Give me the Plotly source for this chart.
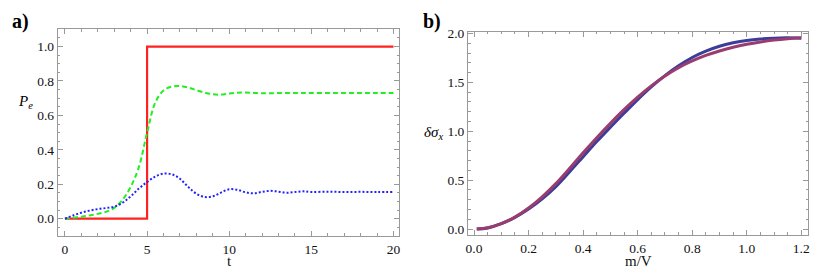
import plotly.graph_objects as go

# ---------- panel a data ----------
t_step = [0, 5, 5, 20]
p_step = [0, 0, 1, 1]

t_vals = [0, 0.5, 1, 1.5, 2, 2.5, 3, 3.5, 4, 4.5, 5, 5.5, 6, 6.5, 7, 7.5, 8, 8.5,
          9, 9.5, 10, 10.5, 11, 11.5, 12, 12.5, 13, 13.5, 14, 14.5, 15, 16, 17, 18, 19, 20]
p_green = [0, 0.006, 0.012, 0.019, 0.028, 0.04, 0.063, 0.11, 0.185, 0.30, 0.50, 0.675,
           0.745, 0.767, 0.771, 0.762, 0.747, 0.733, 0.723, 0.721, 0.727, 0.732, 0.733,
           0.731, 0.729, 0.729, 0.730, 0.730, 0.730, 0.730, 0.730, 0.730, 0.730, 0.730,
           0.730, 0.730]
p_blue = [0, 0.019, 0.035, 0.047, 0.056, 0.062, 0.07, 0.092, 0.13, 0.175, 0.213, 0.245,
          0.262, 0.258, 0.232, 0.185, 0.145, 0.126, 0.13, 0.152, 0.171, 0.168, 0.153,
          0.148, 0.156, 0.162, 0.157, 0.151, 0.155, 0.159, 0.155, 0.157, 0.155, 0.156,
          0.155, 0.155]

# ---------- panel b data ----------
mv = [0.01, 0.05, 0.1, 0.15, 0.2, 0.25, 0.3, 0.35, 0.4, 0.45, 0.5, 0.55, 0.6, 0.65,
      0.7, 0.75, 0.8, 0.85, 0.9, 0.95, 1.0, 1.05, 1.1, 1.15, 1.2]
ds_blue = [0.0, 0.012, 0.055, 0.12, 0.205, 0.31, 0.435, 0.585, 0.74, 0.895, 1.042, 1.185,
           1.325, 1.455, 1.57, 1.67, 1.755, 1.82, 1.87, 1.905, 1.93, 1.945, 1.953, 1.956,
           1.952]
ds_purple = [0.0, 0.013, 0.056, 0.122, 0.215, 0.33, 0.465, 0.62, 0.78, 0.935, 1.083, 1.222,
             1.35, 1.465, 1.567, 1.652, 1.72, 1.776, 1.822, 1.86, 1.89, 1.914, 1.933,
             1.947, 1.957]

FONT = "Liberation Serif, Times New Roman, Times, serif"
FRAME = "#999999"
W, H = 830, 273

fig = go.Figure()
fig.add_trace(go.Scatter(x=t_step, y=p_step, mode="lines",
                         line=dict(color="#ff2020", width=2.2), xaxis="x", yaxis="y"))
fig.add_trace(go.Scatter(x=t_vals, y=p_green, mode="lines",
                         line=dict(color="#22ee22", width=2, dash="5px,3px", shape="spline"),
                         xaxis="x", yaxis="y"))
fig.add_trace(go.Scatter(x=t_vals, y=p_blue, mode="lines",
                         line=dict(color="#2222ff", width=2, dash="2px,2px", shape="spline"),
                         xaxis="x", yaxis="y"))
fig.add_trace(go.Scatter(x=mv, y=ds_blue, mode="lines",
                         line=dict(color="#3d3d99", width=3, shape="spline"),
                         xaxis="x2", yaxis="y2"))
fig.add_trace(go.Scatter(x=mv, y=ds_purple, mode="lines",
                         line=dict(color="#993d71", width=3, shape="spline"),
                         xaxis="x2", yaxis="y2"))


def ax(domain, rng, dtick, minor, anchor, fmt=None, standoff=None):
    d = dict(domain=domain, range=rng, tick0=0, dtick=dtick, anchor=anchor,
             showline=True, linecolor=FRAME, linewidth=1, mirror="ticks",
             ticks="inside", ticklen=5, tickcolor=FRAME, tickwidth=1,
             minor=dict(dtick=minor, tick0=0, ticklen=2.5, tickcolor=FRAME,
                        ticks="inside", showgrid=False),
             showgrid=False, zeroline=False,
             tickfont=dict(family=FONT, size=13.5, color="#111111"))
    if fmt:
        d["tickformat"] = fmt
    if standoff is not None:
        d["ticklabelstandoff"] = standoff
    return d


def ann(text, px, py, size, color="black"):
    return dict(text=text, x=px / W, y=1 - py / H, xref="paper", yref="paper",
                xanchor="center", yanchor="middle", showarrow=False,
                font=dict(family=FONT, size=size, color=color))


fig.update_layout(
    width=W, height=H, margin=dict(l=0, r=0, t=0, b=0),
    plot_bgcolor="white", paper_bgcolor="white", showlegend=False,
    xaxis=ax([56 / W, 399 / W], [-0.44, 20.34], 5, 1, "y", standoff=1),
    yaxis=ax([36 / H, 248 / H], [-0.1, 1.1], 0.2, 0.05, "x", fmt=".1f"),
    xaxis2=ax([468.3 / W, 810 / W], [-0.022, 1.225], 0.2, 0.05, "y2", fmt=".1f", standoff=1),
    yaxis2=ax([37 / H, 245.7 / H], [-0.06, 2.02], 0.5, 0.1, "x2", fmt=".1f"),
    annotations=[
        ann("<b>a)</b>", 19, 17, 20),
        ann("<b>b)</b>", 432, 17, 20),
        ann("<i>P<sub>e</sub></i>", 24, 100, 15),
        ann("<i>δσ<sub>x</sub></i>", 434, 131, 15),
        ann("t", 229, 263, 15, "#111111"),
        ann("m/V", 640, 263, 15, "#111111"),
    ],
)

fig.write_html("out.html", config={"displayModeBar": False})

# remove the browser's default page margin so the figure sits at (0, 0)
with open("out.html", encoding="utf-8") as fh:
    html = fh.read()
html = html.replace("<head>", "<head><style>html,body{margin:0;padding:0;overflow:hidden;}</style>", 1)
with open("out.html", "w", encoding="utf-8") as fh:
    fh.write(html)
